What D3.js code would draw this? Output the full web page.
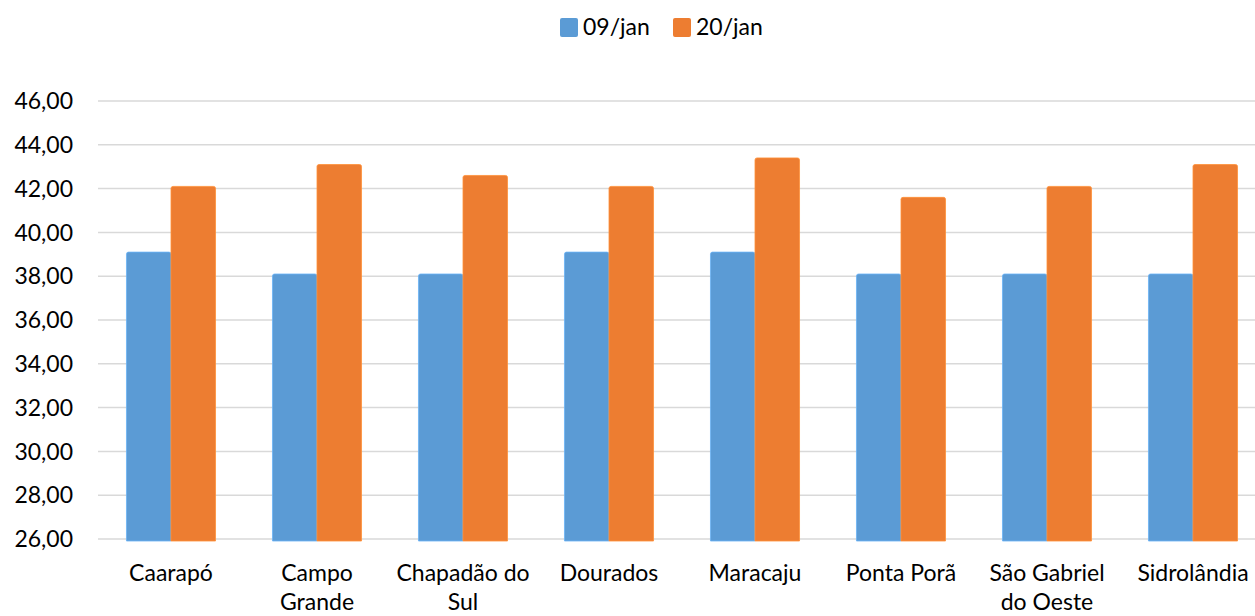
<!DOCTYPE html>
<html><head><meta charset="utf-8">
<script src="https://cdn.jsdelivr.net/npm/d3@7"></script>
<style>body{margin:0;background:#fff}svg{display:block}text{font-family:Lato,"Open Sans",sans-serif;fill:#000}</style>
</head><body>
<svg id="c" width="1255" height="616"></svg>
<script>
const categories = ["Caarapó","Campo Grande","Chapadão do Sul","Dourados","Maracaju","Ponta Porã","São Gabriel do Oeste","Sidrolândia"];
const labelLines = [["Caarapó"],["Campo","Grande"],["Chapadão do","Sul"],["Dourados"],["Maracaju"],["Ponta Porã"],["São Gabriel","do Oeste"],["Sidrolândia"]];
const seriesNames = ["09/jan","20/jan"];
const jan09 = [39.1,38.1,38.1,39.1,39.1,38.1,38.1,38.1];
const jan20 = [42.1,43.1,42.6,42.1,43.4,41.6,42.1,43.1];
const yTicks = [26,28,30,32,34,36,38,40,42,44,46];
const colors = ["#5b9bd5","#ed7d31"];

(function(){
const svg = d3.select("#c");
const pL = 98, pR = 1266, pT = 101, pB = 539;
const FS = 23;
const x = d3.scaleBand().domain(categories).range([pL,pR]).paddingInner(0.39).paddingOuter(0.195);
const xs = d3.scaleBand().domain(seriesNames).range([0,x.bandwidth()]);
const y = d3.scaleLinear().domain([26,46]).range([pB,pT]);
const fmt = v => v.toFixed(2).replace(".",",");

svg.append("g").selectAll("line").data(yTicks).join("line")
  .attr("x1",98).attr("x2",1255).attr("y1",d=>y(d)).attr("y2",d=>y(d))
  .attr("stroke","#d9d9d9").attr("stroke-width",1.5);

svg.append("g").selectAll("text").data(yTicks).join("text")
  .attr("x",73).attr("y",d=>y(d)).attr("dy","0.36em").attr("text-anchor","end")
  .attr("font-size",FS).text(fmt);

const series = [jan09, jan20];
const g = svg.append("g");
series.forEach((vals,si)=>{
  g.selectAll(null).data(vals).join("path")
    .attr("d",(d,i)=>{
      const x0 = x(categories[i]) + xs(seriesNames[si]);
      const w = xs.bandwidth();
      const yt = y(d), yb = y(26)+2, r = 2;
      return `M${x0},${yb}V${yt+r}Q${x0},${yt} ${x0+r},${yt}H${x0+w-r}Q${x0+w},${yt} ${x0+w},${yt+r}V${yb}Z`;
    })
    .attr("fill",colors[si]).attr("stroke",d3.color(colors[si]).brighter(0.4)).attr("stroke-width",0.8);
});

const xl = svg.append("g").selectAll("text").data(categories).join("text")
  .attr("x",d=>x(d)+x.bandwidth()/2).attr("y",581).attr("text-anchor","middle").attr("font-size",FS);
xl.each(function(d,i){
  const t = d3.select(this);
  labelLines[i].forEach((l,j)=>t.append("tspan").attr("x",x(d)+x.bandwidth()/2).attr("dy",j?29:0).text(l));
});

const leg = svg.append("g");
const legX = [560,673];
seriesNames.forEach((n,i)=>{
  leg.append("rect").attr("x",legX[i]).attr("y",18).attr("width",18).attr("height",19).attr("rx",2).attr("fill",colors[i]);
  leg.append("text").attr("x",legX[i]+23).attr("y",27).attr("dy","0.36em").attr("font-size",FS).text(n);
});
})();
</script>
</body></html>
